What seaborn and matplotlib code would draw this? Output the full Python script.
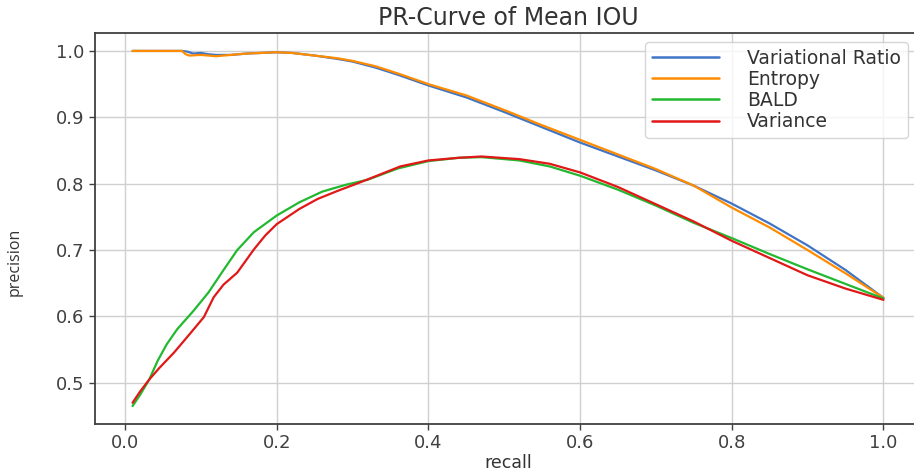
import numpy as np
import pandas as pd
import matplotlib
matplotlib.use("Agg")
import matplotlib.pyplot as plt
import seaborn as sns

# ---- data ----
vr_recall = [0.01, 0.03, 0.05, 0.075, 0.082, 0.09, 0.10, 0.11, 0.12, 0.14, 0.16, 0.18,
             0.20, 0.22, 0.25, 0.28, 0.30, 0.33, 0.36, 0.40, 0.45, 0.50, 0.55, 0.60,
             0.65, 0.70, 0.75, 0.80, 0.85, 0.90, 0.95, 1.0]
vr_precision = [1.0, 1.0, 1.0, 1.0, 0.999, 0.996, 0.997, 0.995, 0.994, 0.994, 0.996, 0.997,
                0.998, 0.997, 0.993, 0.988, 0.984, 0.975, 0.964, 0.948, 0.930, 0.908, 0.885, 0.862,
                0.841, 0.820, 0.797, 0.770, 0.740, 0.707, 0.670, 0.628]

en_recall = [0.01, 0.03, 0.05, 0.075, 0.08, 0.085, 0.10, 0.11, 0.12, 0.14, 0.16, 0.18,
             0.20, 0.22, 0.25, 0.28, 0.30, 0.33, 0.36, 0.40, 0.45, 0.50, 0.55, 0.60,
             0.65, 0.70, 0.75, 0.80, 0.85, 0.90, 0.95, 1.0]
en_precision = [1.0, 1.0, 1.0, 1.0, 0.995, 0.993, 0.994, 0.993, 0.992, 0.994, 0.996, 0.997,
                0.998, 0.997, 0.993, 0.989, 0.985, 0.977, 0.966, 0.950, 0.933, 0.911, 0.888, 0.866,
                0.844, 0.822, 0.797, 0.764, 0.734, 0.700, 0.665, 0.628]

bald_recall = [0.01, 0.02, 0.032, 0.043, 0.055, 0.069, 0.09, 0.11, 0.13, 0.148, 0.17, 0.20,
               0.23, 0.26, 0.29, 0.32, 0.36, 0.40, 0.44, 0.47, 0.52, 0.56, 0.60, 0.65,
               0.70, 0.75, 0.80, 0.85, 0.90, 0.95, 1.0]
bald_precision = [0.465, 0.482, 0.505, 0.533, 0.558, 0.581, 0.608, 0.636, 0.670, 0.700, 0.727, 0.752,
                  0.772, 0.788, 0.798, 0.806, 0.823, 0.834, 0.839, 0.840, 0.835, 0.826, 0.812, 0.791,
                  0.767, 0.741, 0.718, 0.694, 0.671, 0.649, 0.627]

var_recall = [0.01, 0.02, 0.032, 0.045, 0.065, 0.085, 0.104, 0.117, 0.13, 0.148, 0.17, 0.185,
              0.20, 0.23, 0.254, 0.28, 0.31, 0.33, 0.363, 0.40, 0.44, 0.47, 0.52, 0.56,
              0.60, 0.65, 0.70, 0.75, 0.80, 0.85, 0.90, 0.95, 1.0]
var_precision = [0.470, 0.487, 0.505, 0.522, 0.546, 0.573, 0.599, 0.629, 0.648, 0.666, 0.701, 0.722,
                 0.739, 0.762, 0.777, 0.789, 0.802, 0.811, 0.826, 0.835, 0.839, 0.841, 0.837, 0.830,
                 0.817, 0.795, 0.769, 0.743, 0.714, 0.688, 0.662, 0.642, 0.625]

series_names = ["Variational Ratio", "Entropy", "BALD", "Variance"]
series_colors = ["#3f74c6", "#ff8c00", "#22b830", "#e01818"]

# ---- build long-form table ----
frames = []
for name, xs, ys in zip(series_names,
                        [vr_recall, en_recall, bald_recall, var_recall],
                        [vr_precision, en_precision, bald_precision, var_precision]):
    frames.append(pd.DataFrame({"recall": xs, "precision": ys, "method": name}))
df = pd.concat(frames, ignore_index=True)

sns.set_style("ticks", {"axes.grid": True})
plt.rcParams.update({
    "font.family": ["DejaVu Sans"],
    "grid.color": "#d0d0d0",
    "grid.linewidth": 1.0,
    "axes.edgecolor": "#404040",
    "axes.linewidth": 1.3,
    "xtick.color": "#404040",
    "ytick.color": "#404040",
    "xtick.labelcolor": "#404040",
    "ytick.labelcolor": "#404040",
})

fig = plt.figure(figsize=(9.14, 4.72), dpi=100)
ax = fig.add_axes([95 / 914, 1 - 424 / 472, 826 / 914, 391 / 472])

sns.lineplot(data=df, x="recall", y="precision", hue="method",
             hue_order=series_names, palette=series_colors,
             estimator=None, sort=False, linewidth=1.6, ax=ax)

ax.set_xlim(-0.0395, 1.0495)
ax.set_ylim(0.438, 1.027)
ax.set_xticks([0.0, 0.2, 0.4, 0.6, 0.8, 1.0])
ax.set_yticks([0.5, 0.6, 0.7, 0.8, 0.9, 1.0])
ax.tick_params(labelsize=13, length=4, width=1.0)
ax.spines["top"].set_visible(True)
ax.spines["right"].set_visible(False)
ax.minorticks_off()
ax.grid(True, which="major", axis="both")
ax.grid(False, which="minor")

ax.set_title("PR-Curve of Mean IOU", fontsize=17, color="#333333", pad=6)
ax.set_xlabel("recall", fontsize=12.5, color="#333333", labelpad=1)
ax.set_ylabel("precision", fontsize=11.5, color="#333333", family=["Open Sans", "DejaVu Sans"])
ax.yaxis.set_label_coords(-0.088, 0.415)

leg = ax.legend(loc="upper right", bbox_to_anchor=(0.984, 0.977), borderaxespad=0,
                fontsize=13.5, handlelength=3.6, labelspacing=0.12, handletextpad=1.5,
                borderpad=0.35, frameon=True, framealpha=0.8, edgecolor="#cccccc", fancybox=True)
for t in leg.get_texts():
    t.set_color("#333333")
for line in leg.get_lines():
    line.set_linewidth(1.8)

fig.savefig("out.png", dpi=100)
